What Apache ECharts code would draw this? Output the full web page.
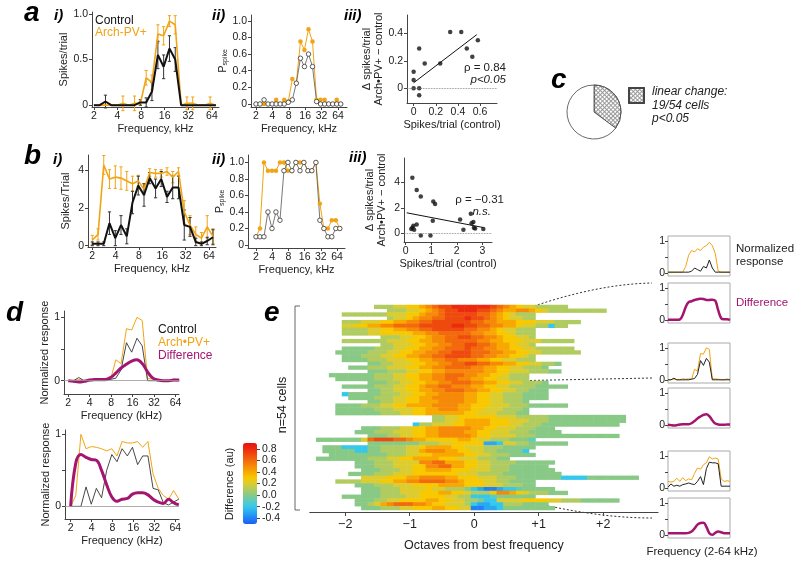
<!DOCTYPE html>
<html><head><meta charset="utf-8">
<script src="https://cdn.jsdelivr.net/npm/echarts@6.0.0/dist/echarts.min.js"></script>
<style>html,body{margin:0;padding:0;background:#fff;}#c{width:800px;height:565px;}</style>
</head><body><div id="c"></div>
<script>
// ================= DATA =================
// stimulus frequencies (kHz), ~quarter-octave steps
const freqs = [2.00,2.37,2.81,3.33,3.96,4.69,5.57,6.60,7.83,9.29,11.0,13.1,15.5,18.4,21.8,25.9,30.7,36.4,43.2,51.2,60.7,72.0];

// panel a i) spikes/trial
const aCtrl    = [0,0,0.04,0,0,0,0,0,0.03,0.03,0.15,0.55,0.42,0.62,0.5,0,0,0,0,0,0,0];
const aCtrlErr = [0,0,0.07,0,0,0,0,0,0.03,0.05,0.1,0.15,0.13,0.14,0.13,0,0,0,0,0,0,0];
const aArch    = [0,0,0,0,0,0.02,0,0.02,0.02,0.3,0.25,0.78,0.76,0.92,0.88,0,0.02,0.02,0,0,0.02,0];
const aArchErr = [0,0,0,0,0,0.08,0,0.08,0.02,0.08,0.08,0.1,0.1,0.06,0.1,0,0.07,0.07,0,0,0.07,0];
// panel a ii) p_spike
const aPCtrl = [0,0,0.05,0,0,0,0,0,0.02,0.05,0.25,0.55,0.45,0.6,0.45,0.03,0,0,0,0,0,0];
const aPArch = [0,0,0,0,0,0.05,0,0.05,0.03,0.3,0.25,0.75,0.65,0.9,0.75,0.05,0.05,0.05,0,0,0.05,0];
// panel a iii) scatter + fit
const aScatter = [[0,0.12],[0,0.06],[0,0],[0.05,0.29],[0.05,0],[0.05,-0.05],[0.1,0.18],[0.24,0.18],[0.33,0.41],[0.43,0.41],[0.48,0.29],[0.53,0.23],[0.58,0.35]];
const aFit = [[0,0.04],[0.57,0.39]];

// panel b i)
const bCtrl    = [0.1,0.1,0.1,1.2,0.4,1.1,0.5,2.3,3.2,2.7,3.6,3.05,3.55,2.6,3.1,3.1,1.1,1.0,0.2,0.1,0.25,0.45];
const bCtrlErr = [0.1,0.1,0.1,0.6,0.4,0.5,0.4,0.6,0.5,0.6,0.3,0.5,0.4,0.3,0.6,0.6,0.8,0.5,0.2,0.1,0.2,0.4];
const bArch    = [0.3,0.6,4.3,3.55,3.65,3.6,3.45,3.3,3.45,3.0,3.9,3.85,3.85,3.95,3.65,3.95,1.8,1.1,0.6,0.4,1.0,0.5];
const bArchErr = [0.25,0.3,0.5,0.5,0.6,0.6,0.5,0.4,0.3,0.3,0.2,0.2,0.2,0.2,0.3,0.2,0.6,0.5,0.4,0.3,0.6,0.4];
// panel b ii)
const bPCtrl = [0.1,0.1,0.1,0.4,0.2,0.4,0.3,0.9,1.0,0.9,1.0,0.9,1.0,0.9,0.9,1.0,0.3,0.2,0.1,0.1,0.2,0.2];
const bPArch = [0.1,0.2,1.0,0.9,0.9,0.9,1.0,1.0,0.9,0.9,1.0,1.0,1.0,0.9,0.9,1.0,0.5,0.2,0.2,0.3,0.3,0.2];
// panel b iii)
const bScatter = [[0.26,4.35],[0.43,3.4],[0.59,2.9],[1.08,2.5],[1.15,2.3],[1.06,1.0],[0.3,0.6],[0.26,0.45],[0.33,0.3],[0.43,0.7],[0.22,0.35],[0.59,-0.15],[0.97,-0.15],[2.13,1.1],[2.55,1.55],[2.26,0.3],[2.58,0.8],[2.65,0.9],[2.67,0.45],[2.72,0.4],[3.04,0.35]];
const bFit = [[0.04,1.62],[3.04,0.47]];

// panel c
const pieCells = [19, 35];

// panel d (normalized)
const dTopArch = [0,0,0.02,0,0,0.03,0.02,0.03,0.02,0.33,0.27,0.82,0.8,1.0,0.95,0.03,0.03,0.02,0,0,0.03,0];
const dTopCtrl = [0,0,0.05,0,0,0,0,0,0.02,0.04,0.17,0.6,0.45,0.67,0.55,0,0,0,0,0,0,0];
const dTopDiff = [0,-0.01,-0.02,-0.01,0.01,0.02,0.02,0.02,0.05,0.12,0.2,0.26,0.31,0.33,0.27,0.14,0.04,0.01,0,0,0.01,0.01];
const dBotArch = [0,0.15,1.0,0.8,0.83,0.82,0.8,0.77,0.8,0.7,0.9,0.88,0.88,0.9,0.82,0.9,0.45,0.25,0.15,0.1,0.22,0.1];
const dBotCtrl = [0,0,0,0.27,0.03,0.25,0.12,0.5,0.72,0.62,0.8,0.7,0.82,0.58,0.7,0.7,0.25,0.23,0.05,0.02,0.06,0.1];
const dBotDiff = [0,0.6,0.72,0.68,0.65,0.64,0.5,0.3,0.13,0.07,0.1,0.11,0.17,0.19,0.19,0.16,0.1,0.06,0.04,0.1,0.05,0.02];

// right-hand example cells (panel e insets)
const r1Arch = [0.02,0.02,0.02,0.02,0.02,0.02,0.2,0.55,0.7,0.65,0.75,0.7,0.8,0.85,0.95,0.85,0.6,0.05,0.02,0.02,0.02,0.02];
const r1Ctrl = [0.02,0.02,0.02,0.02,0.02,0.02,0.02,0.02,0.05,0.15,0.1,0.05,0.2,0.15,0.4,0.15,0.02,0.02,0.02,0.02,0.02,0.02];
const r1Diff = [0,0,0,0,0.01,0.15,0.4,0.55,0.58,0.62,0.64,0.66,0.65,0.62,0.62,0.63,0.6,0.3,0.05,0.02,0.02,0];
const r3Arch = [0.2,0.18,0.2,0.3,0.2,0.32,0.22,0.28,0.25,0.45,0.62,0.58,0.72,0.78,0.97,0.9,0.93,0.9,0.28,0.2,0.22,0.2];
const r3Ctrl = [0.02,0.12,0.05,0.08,0.05,0.1,0.12,0.15,0.12,0.1,0.2,0.35,0.1,0.6,0.8,0.78,0.78,0.75,0.05,0.05,0.05,0.05];
const r3Diff = [0.05,0.05,0.05,0.05,0.05,0.05,0.05,0.06,0.1,0.2,0.32,0.37,0.38,0.25,0.05,0,0.06,0.1,0.08,0.05,0.05,0.05];

// panel e heat map: 54 cells; columns are 0.1-octave bins, column i centred at -2.5+0.1*i
// each row: [first column, codes]; code 0-9 => 0.0-0.9, a..d => -0.4..-0.1
const heatRows = [
 [10,"111223345677888888765432211111"],
 [12,"1112234567788877654455432111111111"],
 [5,"111111122233455677777665432111"],
 [12,"12234556677787765432211"],
 [5,"1112223344556677777766554443332221111"],
 [5,"22334455666677777887766554432211c11"],
 [5,"111122334455667777766554322111"],
 [5,"111122333334455666665544332111"],
 [11,"111223345566776655433221"],
 [5,"111111122233445566666554433322211111"],
 [11,"112223344556677665443221"],
 [5,"000001112233445566676655443322111111"],
 [4,"00000111223344556677766655443322111111"],
 [5,"000111223344556677776655443321"],
 [5,"000011122233445566555443322111"],
 [9,"001122233445566776655443322110"],
 [6,"0001112223344556666554433221110"],
 [9,"000111223344555555443322211100"],
 [3,"0000000111223344556665544332111"],
 [4,"000000111223344556655443322111"],
 [9,"0001122334455666554433221110"],
 [5,"00000111223345566555443322111100000"],
 [9,"0011223344556665544332211000"],
 [5,"c0000011122334455554433221110000"],
 [6,"0000111223344555554433221110000"],
 [9,"0011223344455554433221110"],
 [4,"000011122334444555544333222111000000"],
 [4,"000000111222334455544332221110"],
 [4,"000000011122334444443322211100"],
 [19,"112233333322211111000000000000"],
 [19,"112234444333222111000000000000"],
 [16,"c1122233444433322111000000000000"],
 [8,"000111223344555554433222111000"],
 [7,"00011122233445555443322211100000"],
 [9,"000112233445555543322221110000000000000"],
 [1,"000000026777665443333344322111000d"],
 [9,"000000001112233333bbc2211000000"],
 [2,"000cccc00111122344443322211100000"],
 [2,"00000cc001111224555443322110000c"],
 [3,"00000000011122334444433221110000"],
 [1,"000000001112233444433322211100"],
 [7,"0001112222556644433221111000000"],
 [7,"000111222335566443322111000000"],
 [8,"000111223344443332221110000000"],
 [6,"000011122233333332221111000000000"],
 [8,"2222333445555443332221110000000cccc00000000"],
 [4,"1111222334455666655433322110000"],
 [7,"0001112223333444433322211100"],
 [8,"00011122223221110cbaabccd00000"],
 [8,"00011122233344332111355432111000"],
 [5,"00000011112233332211cccd000000"],
 [7,"00011223333443322110cc2222333322111000000"],
 [7,"001245666554332221cbbcc1110000"],
 [8,"00011122333443322aabbc00000000"]
];
const heatCols = 54;
const colorTicks = [-0.4,-0.2,0,0.2,0.4,0.6,0.8];
const octaveTicks = [-2,-1,0,1,2];

// ================= BUILD =================
const FONT = '"Liberation Sans", Arial, Helvetica, sans-serif';
const ORANGE = '#f2a414', PURPLE = '#a3156f', BLACK = '#111', AX = '#444', TX = '#222';
const CMAP = ['#1a5ff5','#2280f5','#2aa8f2','#35c8ec','#5ccbc0','#88c986','#b0cc60','#dccc30','#f8c800','#f8a800','#f68a08','#f26a0c','#ef4a0e','#ec2a10','#e81010'];
const fx = freqs.map(f => Math.log2(f));
const fFmt = v => String(Math.round(Math.pow(2, v)));
const octT = [1,2,3,4,5,6];

const G = [], XA = [], YA = [], S = [];
function panel(g, xa, ya) {
  const i = G.length;
  G.push(Object.assign({containLabel:false}, g));
  XA.push(Object.assign({}, xa, {gridIndex:i}));
  YA.push(Object.assign({}, ya, {gridIndex:i}));
  return i;
}
function vAxis(o) {
  const a = {
    type:'value', min:o.min, max:o.max, show:o.show!==false,
    axisLine:{show:o.line!==false, onZero:false, lineStyle:{color:AX, width:1}},
    axisTick:{show:true, length:o.tl||3, lineStyle:{color:AX}, customValues:o.ticks},
    axisLabel:{color:TX, fontSize:o.lfs||10.5, fontFamily:FONT, margin:o.margin||4, customValues:o.labels||o.ticks},
    splitLine:{show:false},
    nameLocation:'middle',
    nameTextStyle:{color:TX, fontSize:o.fs||11, fontFamily:FONT}
  };
  if (o.fmt) a.axisLabel.formatter = o.fmt;
  if (o.name) { a.name = o.name; a.nameGap = o.gap; }
  if (o.lh) a.nameTextStyle.lineHeight = o.lh;
  if (o.rich) a.nameTextStyle.rich = o.rich;
  if (o.position) a.position = o.position;
  return a;
}
const pairs = (xs, ys) => xs.map((x, i) => [x, ys[i]]);
const triples = (xs, ys, es) => xs.map((x, i) => [x, ys[i], es[i]]);
function line(i, data, color, width, extra) {
  S.push(Object.assign({type:'line', xAxisIndex:i, yAxisIndex:i, data, symbol:'none', lineStyle:{color, width},
    itemStyle:{color}, silent:true, z:3, animation:false}, extra || {}));
}
function errs(i, data, color) {
  S.push({type:'custom', xAxisIndex:i, yAxisIndex:i, data, silent:true, z:2, animation:false,
    renderItem: function (p, api) {
      const x = api.value(0), y = api.value(1), e = api.value(2);
      if (!e) return {type:'group', children:[]};
      const lo = api.coord([x, y - e]), hi = api.coord([x, y + e]);
      const st = {stroke:color, lineWidth:1};
      return {type:'group', children:[
        {type:'line', shape:{x1:lo[0], y1:lo[1], x2:hi[0], y2:hi[1]}, style:st},
        {type:'line', shape:{x1:hi[0]-1.6, y1:hi[1], x2:hi[0]+1.6, y2:hi[1]}, style:st},
        {type:'line', shape:{x1:lo[0]-1.6, y1:lo[1], x2:lo[0]+1.6, y2:lo[1]}, style:st}
      ]};
    }});
}
const dec1 = v => v === 0 ? '0' : v.toFixed(1);
const zeroLine = (c, dash) => ({silent:true, symbol:['none','none'], label:{show:false},
  lineStyle:{color:c, width:0.8, type:dash ? 'dotted' : 'solid'}, data:[{yAxis:0}], animation:false});
const pRich = {p:{fontSize:11, fontFamily:FONT, color:TX}, s:{fontSize:7, fontFamily:FONT, color:TX, padding:[5,0,0,0]}};
const openCircle = {symbol:'circle', symbolSize:4.5, itemStyle:{color:'#fff', borderColor:'#333', borderWidth:0.8}};
const fullCircle = {symbol:'circle', symbolSize:4.5, itemStyle:{color:ORANGE}};

// ---- a i)
const A1 = panel({left:92, top:12, width:127, height:95},
  vAxis({min:0.92, max:6.3, ticks:octT, fmt:fFmt, name:'Frequency, kHz', gap:16}),
  vAxis({min:-0.02, max:1.02, ticks:[0,0.5,1], fmt:dec1, name:'Spikes/trial', gap:20}));
errs(A1, triples(fx, aArch, aArchErr), ORANGE);
errs(A1, triples(fx, aCtrl, aCtrlErr), '#333');
line(A1, pairs(fx, aArch), ORANGE, 1.6);
line(A1, pairs(fx, aCtrl), BLACK, 2);
// ---- a ii)
const A2 = panel({left:251, top:15, width:96, height:92},
  vAxis({min:0.695, max:6.55, ticks:octT, fmt:fFmt, name:'Frequency, kHz', gap:16}),
  vAxis({min:-0.036, max:1.07, ticks:[0,0.2,0.4,0.6,0.8,1], fmt:dec1, name:'{p|P}{s|spike}', gap:21, rich:pRich}));
line(A2, pairs(fx, aPArch), ORANGE, 1, fullCircle);
line(A2, pairs(fx, aPCtrl), '#555', 0.8, openCircle);
// ---- a iii)
const A3 = panel({left:407, top:15, width:90, height:88},
  vAxis({min:-0.06, max:0.753, ticks:[0,0.2,0.4,0.6], fmt:dec1, name:'Spikes/trial (control)', gap:16}),
  vAxis({min:-0.107, max:0.533, ticks:[0,0.2,0.4], fmt:dec1, name:'Δ spikes/trial\nArch•PV+ − control', gap:19, lh:12}));
S.push({type:'scatter', xAxisIndex:A3, yAxisIndex:A3, data:aScatter, symbolSize:4.5, itemStyle:{color:BLACK}, silent:true, animation:false, markLine:zeroLine('#777', true)});
line(A3, aFit, BLACK, 1);

// ---- b i)
const B1 = panel({left:88, top:155, width:128, height:92},
  vAxis({min:0.816, max:6.3, ticks:octT, fmt:fFmt, name:'Frequency, kHz', gap:16}),
  vAxis({min:-0.07, max:4.83, ticks:[0,2,4], name:'Spikes/Trial', gap:17}));
errs(B1, triples(fx, bArch, bArchErr), ORANGE);
errs(B1, triples(fx, bCtrl, bCtrlErr), '#333');
line(B1, pairs(fx, bArch), ORANGE, 1.6);
line(B1, pairs(fx, bCtrl), BLACK, 2);
// ---- b ii)
const B2 = panel({left:248, top:155, width:97, height:93},
  vAxis({min:0.506, max:6.49, ticks:octT, fmt:fFmt, name:'Frequency, kHz', gap:16}),
  vAxis({min:-0.036, max:1.09, ticks:[0,0.2,0.4,0.6,0.8,1], fmt:dec1, name:'{p|P}{s|spike}', gap:21, rich:pRich}));
line(B2, pairs(fx, bPArch), ORANGE, 1, fullCircle);
line(B2, pairs(fx, bPCtrl), '#555', 0.8, openCircle);
// ---- b iii)
const B3 = panel({left:404, top:158, width:88, height:84},
  vAxis({min:-0.067, max:3.38, ticks:[0,1,2,3], name:'Spikes/trial (control)', gap:16}),
  vAxis({min:-0.66, max:5.9, ticks:[0,2,4], name:'Δ spikes/trial\nArch•PV+ − control', gap:16, lh:12}));
S.push({type:'scatter', xAxisIndex:B3, yAxisIndex:B3, data:bScatter, symbolSize:4.5, itemStyle:{color:BLACK}, silent:true, animation:false, markLine:zeroLine('#777', true)});
line(B3, bFit, BLACK, 1);

// ---- d top / bottom
const D1 = panel({left:64, top:311, width:115, height:83},
  vAxis({min:0.8, max:6.16, ticks:octT, fmt:fFmt, name:'Frequency (kHz)', gap:16}),
  vAxis({min:-0.21, max:1.1, ticks:[0,0.5,1], labels:[0,1], name:'Normalized response', gap:14}));
line(D1, pairs(fx, dTopArch), ORANGE, 1);
line(D1, pairs(fx, dTopCtrl), '#333', 0.9, {markLine:zeroLine('#999', false)});
line(D1, pairs(fx, dTopDiff), PURPLE, 3, {smooth:0.4});
const D2 = panel({left:65, top:430, width:114, height:89},
  vAxis({min:0.73, max:6.18, ticks:octT, fmt:fFmt, name:'Frequency (kHz)', gap:16}),
  vAxis({min:-0.175, max:1.06, ticks:[0,0.5,1], labels:[0,1], name:'Normalized response', gap:14}));
line(D2, pairs(fx, dBotArch), ORANGE, 1);
line(D2, pairs(fx, dBotCtrl), '#333', 0.9, {markLine:zeroLine('#999', false)});
line(D2, pairs(fx, dBotDiff), PURPLE, 3, {smooth:0.4});

// ---- e heat map (category grid)
const colIdx = Array.from({length:heatCols}, (_, i) => String(i));
const rowIdx = heatRows.map((_, r) => String(r));
const E = panel({left:309.75, top:305, width:348.3, height:205},
  {type:'category', data:colIdx, show:false},
  {type:'category', data:rowIdx, show:false, inverse:true});
const code = c => (c >= '0' && c <= '9') ? (+c) / 10 : ({a:-0.4, b:-0.3, c:-0.2, d:-0.1})[c];
const heatData = [];
heatRows.forEach(([start, s], r) => {
  for (let j = 0; j < s.length; j++) heatData.push([start + j, r, code(s[j])]);
});
const HM = S.length;
S.push({type:'heatmap', xAxisIndex:E, yAxisIndex:E, data:heatData, silent:true, animation:false, progressive:0});

// colour bar axis
panel({left:243, top:443, width:14, height:81},
  {type:'value', show:false, min:0, max:1},
  vAxis({min:-0.5, max:0.9, ticks:colorTicks, fmt: v => v.toFixed(1), lfs:10.5, margin:5, line:false, position:'right'}));

// ---- right-hand insets
function inset(top, seriesList) {
  const i = panel({left:668, top, width:62, height:40, show:true, borderColor:'#aaa', borderWidth:1},
    Object.assign(vAxis({min:1, max:Math.log2(72), ticks:[1]}), {show:false}),
    vAxis({min:-0.1, max:1.15, ticks:[0,0.5,1], labels:[0,1], lfs:10.5, margin:3, line:false}));
  seriesList.forEach(([ys, c, w]) => line(i, pairs(fx, ys), c, w, w > 2 ? {smooth:0.4} : {}));
}
inset(236, [[r1Arch, ORANGE, 1], [r1Ctrl, '#222', 1]]);
inset(283, [[r1Diff, PURPLE, 2.5]]);
inset(343, [[dTopArch, ORANGE, 1], [dTopCtrl, '#222', 1]]);
inset(388, [[dTopDiff, PURPLE, 2.5]]);
inset(451, [[r3Arch, ORANGE, 1], [r3Ctrl, '#222', 1]]);
inset(498, [[r3Diff, PURPLE, 2.5]]);

// visible octave axis for panel e (added after all panels so indices stay aligned)
XA.push(Object.assign(vAxis({min:-2.55, max:2.85, ticks:octaveTicks, lfs:12.5, margin:6, tl:4,
  fmt: v => v > 0 ? '+' + v : (v < 0 ? '\u2212' + (-v) : '0'), name:'Octaves from best frequency', gap:27, fs:12.5}),
  {gridIndex:E, offset:2, position:'bottom'}));

// ---- c pie
S.push({type:'pie', center:[594, 112], radius:27, startAngle:90, clockwise:true, silent:true, animation:false,
  label:{show:false}, labelLine:{show:false},
  itemStyle:{borderColor:'#444', borderWidth:0.8},
  data:[
    {name:'linear change:', value:pieCells[0], itemStyle:{color:'#9a9a9a', decal:{symbol:'rect', symbolSize:1, dashArrayX:[2,1], dashArrayY:[2,1], rotation:Math.PI/4, color:'#ffffff'}}},
    {name:'other', value:pieCells[1], itemStyle:{color:'#ffffff'}}
  ]});

// ================= TEXT / ANNOTATIONS =================
function T(x, y, text, o) {
  o = o || {};
  const el = {type:'text', x, y, silent:true, z:10,
    style:{text, font:(o.f || '') + ' ' + (o.size || 11) + 'px ' + FONT, fill:o.color || TX,
      textAlign:o.align || 'left', textVerticalAlign:o.va || 'middle'}};
  if (o.rot) el.rotation = o.rot;
  return el;
}
const BI = 'italic bold';
const graphics = [
  T(24, 13, 'a', {f:BI, size:28, color:'#000'}),
  T(54, 16, 'i)', {f:BI, size:15, color:'#000'}),
  T(212, 16, 'ii)', {f:BI, size:15, color:'#000'}),
  T(344, 16, 'iii)', {f:BI, size:15, color:'#000'}),
  T(24, 156, 'b', {f:BI, size:28, color:'#000'}),
  T(53, 160, 'i)', {f:BI, size:15, color:'#000'}),
  T(212, 160, 'ii)', {f:BI, size:15, color:'#000'}),
  T(349, 158, 'iii)', {f:BI, size:15, color:'#000'}),
  T(551, 80, 'c', {f:BI, size:28, color:'#000'}),
  T(6, 313, 'd', {f:BI, size:28, color:'#000'}),
  T(264, 313, 'e', {f:BI, size:28, color:'#000'}),
  T(95, 21, 'Control', {size:12, color:'#111'}),
  T(95, 33, 'Arch-PV+', {size:12, color:ORANGE}),
  T(506, 68, 'ρ = 0.84', {size:11.5, align:'right'}),
  T(506, 80, 'p<0.05', {size:11.5, align:'right', f:'italic'}),
  T(504, 200, 'ρ = −0.31', {size:11.5, align:'right'}),
  T(491, 212, 'n.s.', {size:11.5, align:'right', f:'italic'}),
  T(652, 92, 'linear change:', {size:12, f:'italic'}),
  T(652, 106, '19/54 cells', {size:12, f:'italic'}),
  T(652, 119, 'p<0.05', {size:12, f:'italic'}),
  T(158, 330, 'Control', {size:12, color:'#111'}),
  T(158, 343, 'Arch•PV+', {size:12, color:ORANGE}),
  T(158, 356, 'Difference', {size:12, color:PURPLE}),
  T(736, 249, 'Normalized', {size:11.5}),
  T(736, 262, 'response', {size:11.5}),
  T(736, 303, 'Difference', {size:11.5, color:PURPLE}),
  T(702, 552, 'Frequency (2-64 kHz)', {size:11.5, align:'center'}),
  T(230, 484, 'Difference (au)', {size:11, align:'center', rot:Math.PI/2}),
  T(283, 405, 'n=54 cells', {size:12.5, align:'center', rot:Math.PI/2}),
  {type:'polyline', silent:true, shape:{points:[[300,306],[295,306],[295,510],[300,510]]}, style:{stroke:'#666', lineWidth:1, fill:null}},
  {type:'bezierCurve', silent:true, shape:{x1:489,y1:323,cpx1:545,cpy1:300,cpx2:600,cpy2:284,x2:652,y2:283}, style:{stroke:'#333', lineWidth:1, lineDash:[2,2], fill:null}},
  {type:'polygon', silent:true, shape:{points:[[475,329],[490.4,326.8],[487.2,319.4]]}, style:{fill:'#111'}},
  {type:'line', silent:true, shape:{x1:490,y1:381.3,x2:652,y2:378}, style:{stroke:'#333', lineWidth:1, lineDash:[2,2]}},
  {type:'polygon', silent:true, shape:{points:[[475,382],[490.2,385.3],[489.8,377.3]]}, style:{fill:'#111'}},
  {type:'bezierCurve', silent:true, shape:{x1:489,y1:491,cpx1:545,cpy1:507,cpx2:600,cpy2:518,x2:652,y2:518}, style:{stroke:'#333', lineWidth:1, lineDash:[2,2], fill:null}},
  {type:'polygon', silent:true, shape:{points:[[475,486],[487.8,494.8],[490.4,487.3]]}, style:{fill:'#111'}}
];

const chart = echarts.init(document.getElementById('c'), null, {renderer:'canvas', width:800, height:565});
chart.setOption({
  animation:false,
  backgroundColor:'#fff',
  textStyle:{fontFamily:FONT},
  grid:G, xAxis:XA, yAxis:YA, series:S,
  legend:{show:true, left:628, top:87, itemWidth:15, itemHeight:15, itemGap:0, padding:0, icon:'rect',
    data:['linear change:'], formatter:() => '', selectedMode:false, textStyle:{fontSize:1}},
  visualMap:{type:'continuous', min:-0.5, max:0.9, dimension:2, seriesIndex:[HM], calculable:false, hoverLink:false,
    left:243, top:443, itemWidth:14, itemHeight:81, padding:0, inRange:{color:CMAP}},
  graphic:graphics
});
</script></body></html>
